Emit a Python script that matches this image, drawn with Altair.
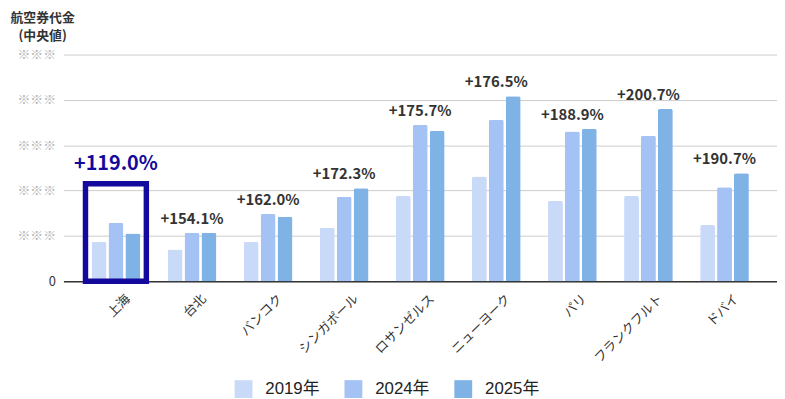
import altair as alt
import pandas as pd

cities = ["上海", "台北", "バンコク", "シンガポール", "ロサンゼルス", "ニューヨーク", "パリ", "フランクフルト", "ドバイ"]
years = ["2019年", "2024年", "2025年"]
v2019 = [0.87, 0.70, 0.87, 1.18, 1.88, 2.31, 1.77, 1.88, 1.24]
v2024 = [1.29, 1.07, 1.48, 1.86, 3.45, 3.56, 3.30, 3.21, 2.07]
v2025 = [1.05, 1.07, 1.42, 2.05, 3.32, 4.08, 3.36, 3.80, 2.38]
growth = ["+119.0%", "+154.1%", "+162.0%", "+172.3%", "+175.7%", "+176.5%", "+188.9%", "+200.7%", "+190.7%"]
highlight_city = "上海"
highlight_top = 2.15
colors = ["#c9daf8", "#a4c2f4", "#7fb2e5"]
navy = "#13099c"

rows = []
for i, c in enumerate(cities):
    for y, vals in zip(years, [v2019, v2024, v2025]):
        rows.append({"city": c, "year": y, "value": vals[i]})
bars_df = pd.DataFrame(rows)

lab_df = pd.DataFrame({
    "city": cities,
    "label": growth,
    "top": [max(a, b, c) for a, b, c in zip(v2019, v2024, v2025)],
})
hl_df = pd.DataFrame({"city": [highlight_city], "label": [growth[cities.index(highlight_city)]],
                      "top": [highlight_top], "zero": [0]})

JP = "Noto Sans CJK JP"

x_enc = alt.X("city:N", sort=cities, title=None,
              scale=alt.Scale(paddingInner=0.36, paddingOuter=0.37),
              axis=alt.Axis(labelAngle=315, labelFont=JP, labelFontSize=13, labelColor="#333",
                            ticks=False, domainColor="#333", domainWidth=1.5, labelPadding=11,
                            labelOffset=8, grid=False))
y_scale = alt.Scale(domain=[0, 5], nice=False)

bars = alt.Chart(bars_df).mark_bar(cornerRadiusTopLeft=2, cornerRadiusTopRight=2).encode(
    x=x_enc,
    xOffset=alt.XOffset("year:N", sort=years, scale=alt.Scale(paddingInner=0.12)),
    y=alt.Y("value:Q", scale=y_scale, title=None,
            axis=alt.Axis(values=[0, 1, 2, 3, 4, 5], domain=False, ticks=False,
                          gridColor="#cccccc", gridWidth=1,
                          labelExpr="datum.value == 0 ? '0' : '※※※'",
                          labelColor={"condition": {"test": "datum.value == 0", "value": "#333333"},
                                      "value": "#b5b5b5"},
                          labelFont=JP, labelFontSize=13, labelPadding=8,
                          minExtent=56, maxExtent=56)),
    color=alt.Color("year:N", sort=years, scale=alt.Scale(domain=years, range=colors), title=None,
                    legend=alt.Legend(orient="none", direction="horizontal", legendX=173, legendY=329,
                                      symbolType="square", symbolSize=324, symbolStrokeWidth=0,
                                      labelFont="Liberation Sans, Noto Sans CJK JP", labelFontSize=17,
                                      labelColor="#222", labelOffset=13, columnPadding=25, padding=0)),
)

labels = alt.Chart(lab_df).transform_filter(
    alt.datum.city != highlight_city
).mark_text(font=JP, fontSize=15, fontWeight="bold", color="#333", baseline="alphabetic", dy=-9).encode(
    x=alt.X("city:N", sort=cities),
    y=alt.Y("top:Q", scale=y_scale),
    text="label:N",
)

box = alt.Chart(hl_df).mark_bar(fillOpacity=0, stroke=navy, strokeWidth=5.5,
                                width=alt.RelativeBandSize(1.25)).encode(
    x=alt.X("city:N", sort=cities),
    y=alt.Y("top:Q", scale=y_scale),
    y2="zero:Q",
)

hl_label = alt.Chart(hl_df).mark_text(font=JP, fontSize=20, fontWeight="bold", color=navy,
                                      baseline="alphabetic", dy=-14).encode(
    x=alt.X("city:N", sort=cities),
    y=alt.Y("top:Q", scale=y_scale),
    text="label:N",
)

chart = alt.layer(bars, labels, box, hl_label).properties(
    width=721, height=229,
    padding={"top": 2, "left": 0, "right": 0, "bottom": 0},
    title=alt.TitleParams(["航空券代金", "(中央値)"], anchor="start", align="center", dx=35,
                          fontSize=13, fontWeight="bold", color="#333", font=JP, lineHeight=18,
                          baseline="top", offset=6, frame="bounds"),
).configure_view(stroke=None)

chart.save("out.html", embed_options={"renderer": "svg", "actions": False})
